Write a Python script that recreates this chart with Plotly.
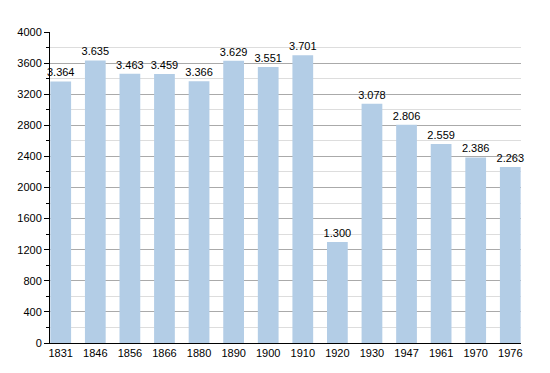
import plotly.graph_objects as go

years = ["1831", "1846", "1856", "1866", "1880", "1890", "1900", "1910", "1920", "1930", "1947", "1961", "1970", "1976"]
population = [3364, 3635, 3463, 3459, 3366, 3629, 3551, 3701, 1300, 3078, 2806, 2559, 2386, 2263]
labels = [f"{v/1000:.3f}" for v in population]
y_ticks = list(range(0, 4001, 400))

fig = go.Figure(go.Bar(
    x=years, y=population,
    text=labels, textposition="outside", constraintext="none",
    textfont=dict(family="Liberation Sans, Arial, sans-serif", size=11, color="#000"),
    marker=dict(color="#b3cde6", line=dict(width=0)),
    cliponaxis=False,
))

fig.update_layout(
    width=550, height=373,
    margin=dict(l=50, r=29, t=32, b=30, autoexpand=False),
    plot_bgcolor="white", paper_bgcolor="white",
    bargap=0.4,
    showlegend=False,
    font=dict(family="Liberation Sans, Arial, sans-serif", size=11, color="#000"),
    xaxis=dict(
        type="category", range=[-0.31, len(years) - 1 + 0.31],
        showline=True, linecolor="#000", linewidth=1,
        ticks="", showgrid=False, tickfont=dict(size=11), automargin=False,
    ),
    yaxis=dict(
        range=[0, 4000], tickvals=y_ticks, ticktext=[str(v) for v in y_ticks],
        showline=True, linecolor="#000", linewidth=1,
        ticks="outside", ticklen=5, tickcolor="#000",
        showgrid=True, gridcolor="#aaaaaa", gridwidth=1,
        zeroline=False, automargin=False,
        minor=dict(dtick=200, showgrid=True, gridcolor="#dddddd", ticks="outside", ticklen=3, tickcolor="#000"),
        tickfont=dict(size=11),
    ),
)

fig.write_html("out.html", config={"displayModeBar": False},
               post_script="document.body.style.margin='0px';")
